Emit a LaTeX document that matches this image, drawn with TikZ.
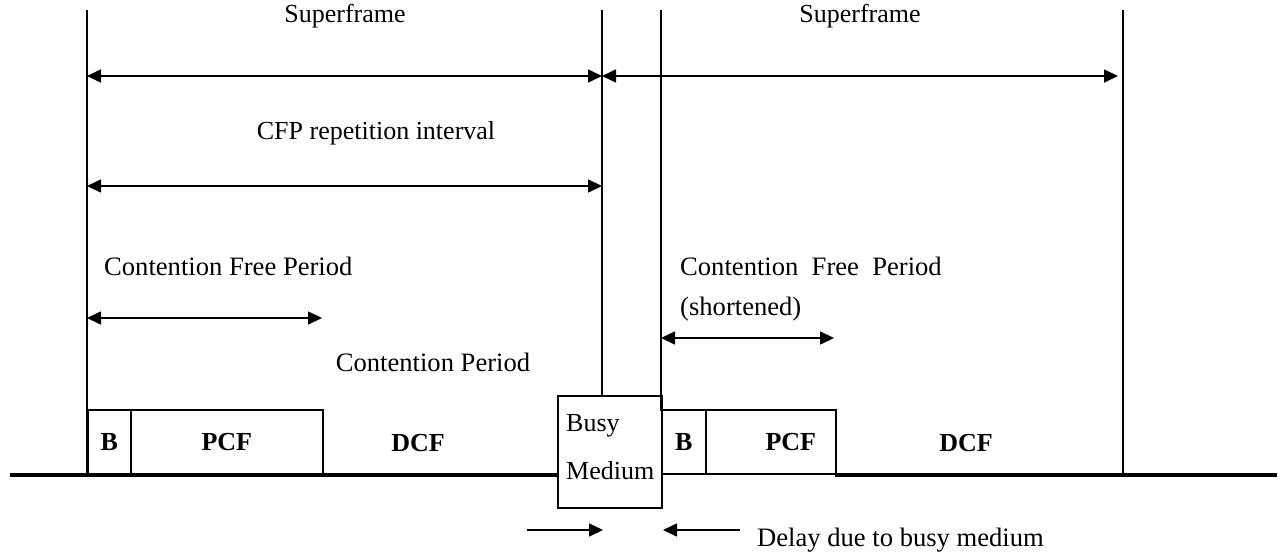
\documentclass[tikz,border=0pt]{standalone}
\usepackage{fontspec}
\setmainfont{Liberation Serif}
\usetikzlibrary{arrows.meta}
\begin{document}
\begin{tikzpicture}[x=1pt,y=-1pt,
  thinline/.style={line width=1.6pt},
  baseline/.style={line width=4pt},
  dimarrow/.style={line width=1.6pt,{Triangle[length=14pt,width=13pt]}-{Triangle[length=14pt,width=13pt]}},
  onearrow/.style={line width=1.6pt,-{Triangle[length=14pt,width=13pt]}},
  lbl/.style={font=\fontsize{26}{30}\selectfont,inner sep=0pt},
  lblw/.style={font=\fontsize{26.6}{30}\selectfont,inner sep=0pt},
  blbl/.style={font=\fontsize{26}{30}\selectfont\bfseries,inner sep=0pt},
  frame/.style={draw,line width=1.6pt,inner sep=0pt}]
\useasboundingbox (0,0) rectangle (1283,552);

% time axis markers
\coordinate (t0top) at (87,10);   \coordinate (t0bot) at (87,475);
\coordinate (t1top) at (602,10);  \coordinate (t1bot) at (602,395);
\coordinate (t2top) at (661,10);  \coordinate (t2bot) at (661,411);
\coordinate (t3top) at (1123,10); \coordinate (t3bot) at (1123,475);
\draw[thinline] (t0top) -- (t0bot);
\draw[thinline] (t1top) -- (t1bot);
\draw[thinline] (t2top) -- (t2bot);
\draw[thinline] (t3top) -- (t3bot);

% medium baseline
\coordinate (axL) at (10,475);
\coordinate (axM1) at (557,475);
\coordinate (axM2) at (835,475);
\coordinate (axR) at (1277,475);
\draw[baseline] (axL) -- (axM1);
\draw[baseline] (axM2) -- (axR);

% first superframe: beacon + PCF
\node[frame,minimum width=43pt,minimum height=64pt,anchor=south west] (b1) at (87,475) {};
\node[frame,minimum width=192pt,minimum height=64pt,anchor=south west] (p1) at (130,475) {};
\node[blbl] at (b1.center) {B};
\node[blbl] at (p1.center) {PCF};
\node[blbl] (dcf1) at (418,443) {DCF};

% busy medium
\node[frame,minimum width=104pt,minimum height=112pt,anchor=north west] (busy) at (557,395) {};
\node[lbl,anchor=base west] (busyA) at (566,431) {Busy};
\node[lbl,anchor=base west] (busyB) at (566,479) {Medium};

% second superframe: beacon + shortened PCF
\node[frame,minimum width=44pt,minimum height=64pt,anchor=south west] (b2) at (661,475) {};
\node[frame,minimum width=130pt,minimum height=64pt,anchor=south west] (p2) at (705,475) {};
\node[blbl] at (b2.center) {B};
\node[blbl] at ([xshift=20pt]p2.center) {PCF};
\node[blbl] (dcf2) at (966,443) {DCF};

% superframe spans
\node[lbl] (sf1) at (345,16) {Superframe};
\node[lbl] (sf2) at (860,16) {Superframe};
\coordinate (sfA) at (87,76);
\coordinate (sfB) at (602,76);
\coordinate (sfC) at (1118,76);
\draw[dimarrow] (sfA) -- (sfB);
\draw[dimarrow] (sfB) -- (sfC);

% CFP repetition interval
\node[lbl] (cfp) at (376,133) {CFP repetition interval};
\coordinate (riA) at (87,186);
\coordinate (riB) at (602,186);
\draw[dimarrow] (riA) -- (riB);

% contention free periods
\node[lblw,anchor=base west] (cf1) at (104,275) {Contention Free Period};
\coordinate (cfA) at (87,318);
\coordinate (cfB) at (322,318);
\draw[dimarrow] (cfA) -- (cfB);

\node[lblw,anchor=base west] (cf2) at (680,275) {Contention\ \ Free\ \ Period};
\node[lblw,anchor=base west] (cf2s) at (680,315) {(shortened)};
\coordinate (csA) at (661,338);
\coordinate (csB) at (834,338);
\draw[dimarrow] (csA) -- (csB);

\node[lblw] (cp) at (433,362) {Contention Period};

% delay due to busy medium
\coordinate (dA) at (527,530);
\coordinate (dB) at (603,530);
\coordinate (dC) at (740,530);
\coordinate (dD) at (663,530);
\draw[onearrow] (dA) -- (dB);
\draw[onearrow] (dC) -- (dD);
\node[lblw,anchor=base west] (delay) at (757,546) {Delay due to busy medium};
\end{tikzpicture}
\end{document}
